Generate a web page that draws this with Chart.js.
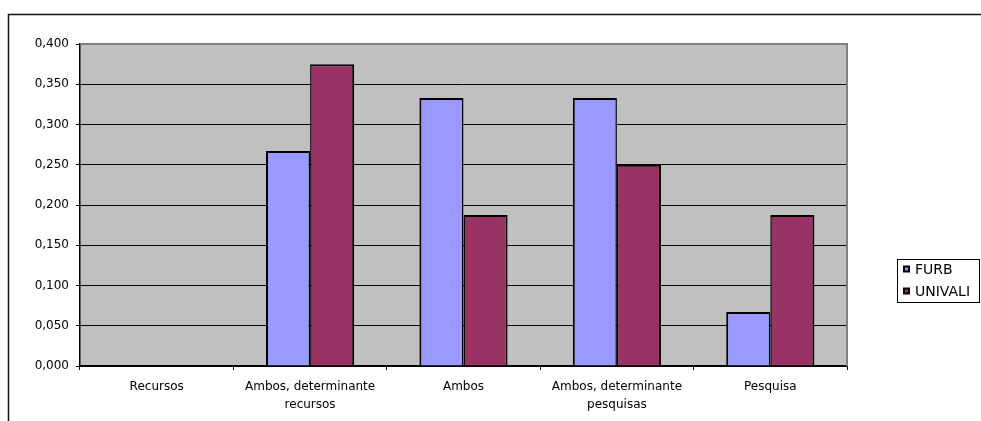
<!DOCTYPE html>
<html>
<head>
<meta charset="utf-8">
<script src="https://cdn.jsdelivr.net/npm/chart.js@4/dist/chart.umd.min.js"></script>
<style>
  html, body { margin: 0; padding: 0; background: #ffffff; }
  #wrap { width: 981px; height: 421px; }
</style>
</head>
<body>
<div id="wrap"><canvas id="c" width="981" height="421"></canvas></div>
<script>
const categories = [
  'Recursos',
  ['Ambos, determinante', 'recursos'],
  'Ambos',
  ['Ambos, determinante', 'pesquisas'],
  'Pesquisa'
];
const seriesNames = ['FURB', 'UNIVALI'];
const furbValues = [0, 0.267, 0.333, 0.333, 0.067];
const univaliValues = [0, 0.375, 0.1875, 0.25, 0.1875];
const seriesColors = ['#9999FF', '#993366'];
const yMin = 0, yMax = 0.4, yStep = 0.05;

const FONT = "'DejaVu Sans', sans-serif";

const framePlugin = {
  id: 'frame',
  beforeDraw(chart) {
    const { ctx, chartArea: a } = chart;
    ctx.save();
    ctx.fillStyle = '#ffffff';
    ctx.fillRect(0, 0, chart.width, chart.height);
    ctx.fillStyle = '#c0c0c0';
    ctx.fillRect(a.left, a.top, a.right - a.left, a.bottom - a.top);
    // outer chart border (cut off at right and bottom)
    ctx.strokeStyle = '#111';
    ctx.lineWidth = 1.5;
    ctx.beginPath();
    ctx.moveTo(8.5, chart.height);
    ctx.lineTo(8.5, 14.5);
    ctx.lineTo(chart.width, 14.5);
    ctx.stroke();
    ctx.restore();
  },
  beforeDatasetsDraw(chart) {
    const { ctx, chartArea: a } = chart;
    ctx.save();
    ctx.strokeStyle = '#808080';
    ctx.lineWidth = 2;
    ctx.beginPath();
    ctx.moveTo(a.left, a.top);
    ctx.lineTo(a.right, a.top);
    ctx.lineTo(a.right, a.bottom);
    ctx.stroke();
    ctx.restore();
  },
  afterDraw(chart) {
    const { ctx } = chart;
    const ds = chart.data.datasets;
    const bx = 897.5, by = 259.5, bw = 82, bh = 43;
    ctx.save();
    ctx.fillStyle = '#ffffff';
    ctx.fillRect(bx, by, bw, bh);
    ctx.strokeStyle = '#000';
    ctx.lineWidth = 1;
    ctx.strokeRect(bx, by, bw, bh);
    ctx.font = "14px " + FONT;
    ctx.textBaseline = 'middle';
    ctx.textAlign = 'left';
    ds.forEach((d, i) => {
      const cy = 269 + i * 22;
      ctx.fillStyle = '#000';
      ctx.fillRect(903, cy - 3.5, 7, 7);
      ctx.fillStyle = d.backgroundColor;
      ctx.fillRect(905, cy - 1.5, 3, 3);
      ctx.fillStyle = '#000';
      ctx.fillText(d.label, 915, cy + 1);
    });
    ctx.restore();
  }
};

new Chart(document.getElementById('c'), {
  type: 'bar',
  data: {
    labels: categories,
    datasets: [
      {
        label: seriesNames[0],
        data: furbValues,
        backgroundColor: seriesColors[0],
        borderColor: '#000',
        borderWidth: { left: 2, right: 1.5, top: 2, bottom: 0 },
        borderSkipped: false
      },
      {
        label: seriesNames[1],
        data: univaliValues,
        backgroundColor: seriesColors[1],
        borderColor: '#000',
        borderWidth: { left: 1.5, right: 2, top: 2, bottom: 0 },
        borderSkipped: false
      }
    ]
  },
  options: {
    responsive: false,
    animation: false,
    devicePixelRatio: 1,
    categoryPercentage: 0.575,
    barPercentage: 1.0,
    layout: { padding: { left: 0, right: 134, top: 44, bottom: 0 } },
    plugins: {
      legend: { display: false },
      tooltip: { enabled: false },
      title: { display: false }
    },
    scales: {
      x: {
        offset: true,
        grid: {
          offset: true,
          drawOnChartArea: false,
          drawTicks: true,
          tickLength: 4,
          color: '#000',
          tickColor: '#000'
        },
        border: { display: true, color: '#000', width: 1.5 },
        ticks: {
          color: '#000',
          font: { family: FONT, size: 12, lineHeight: 1.5 },
          padding: 8,
          maxRotation: 0,
          autoSkip: false
        },
        afterFit(s) { s.height = 55; }
      },
      y: {
        min: yMin,
        max: yMax,
        grid: {
          color: (c) => (c.tick && Math.abs(c.tick.value - yMax) < 1e-9) ? 'rgba(0,0,0,0)' : '#000',
          lineWidth: 1,
          drawTicks: true,
          tickLength: 4,
          tickColor: '#000'
        },
        border: { display: true, color: '#000', width: 1.5 },
        ticks: {
          stepSize: yStep,
          color: '#000',
          font: { family: FONT, size: 12 },
          padding: 7,
          callback: (v) => Number(v).toFixed(3).replace('.', ',')
        },
        afterFit(s) { s.width = 80; }
      }
    }
  },
  plugins: [framePlugin]
});
</script>
</body>
</html>
